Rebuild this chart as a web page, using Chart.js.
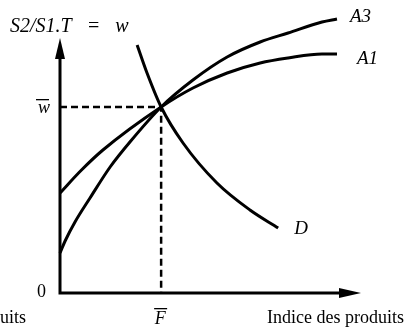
<!DOCTYPE html>
<html>
<head>
<meta charset="utf-8">
<script src="https://cdn.jsdelivr.net/npm/chart.js@4/dist/chart.umd.min.js"></script>
<style>
  html, body { margin: 0; padding: 0; background: #fff; }
</style>
</head>
<body>
<canvas id="chart" width="409" height="336"></canvas>
<script>
// curves (x = product index, y = S2/S1.T)
const a3X = [0, 0.17, 0.5, 1.0, 1.67, 2.33, 3.37, 4.43, 5.57, 6.67, 7.6, 8.73, 9.23];
const a3Y = [1.6, 2.08, 2.84, 3.8, 5.04, 6.04, 7.44, 8.52, 9.44, 10.04, 10.4, 10.84, 10.96];
const a1X = [0, 0.7, 1.43, 3.37, 4.43, 5.57, 6.67, 7.6, 8.73, 9.23];
const a1Y = [4.0, 4.9, 5.72, 7.44, 8.2, 8.8, 9.2, 9.4, 9.56, 9.56];
const dX = [2.57, 2.9, 3.37, 4.1, 5.23, 6.33, 7.27];
const dY = [9.92, 8.8, 7.44, 6.0, 4.4, 3.32, 2.6];

const fBar = 3.37;   // equilibrium F
const wBar = 7.44;   // equilibrium w
const xAxisEnd = 10.03;
const yAxisEnd = 10.2;

const toPts = (xs, ys) => xs.map((x, i) => ({ x: x, y: ys[i] }));

const ink = '#000';
const serif = '"Liberation Serif", "DejaVu Serif", serif';

const axesPlugin = {
    id: 'axes',
    beforeDatasetsDraw(chart) {
        const { ctx, scales: { x, y } } = chart;
        const x0 = x.getPixelForValue(0), y0 = y.getPixelForValue(0);
        const xe = x.getPixelForValue(xAxisEnd), ye = y.getPixelForValue(yAxisEnd);
        ctx.save();
        ctx.strokeStyle = ink;
        ctx.fillStyle = ink;
        ctx.lineWidth = 3;
        ctx.lineCap = 'square';
        ctx.beginPath();
        ctx.moveTo(x0, ye + 15);
        ctx.lineTo(x0, y0);
        ctx.lineTo(xe - 15, y0);
        ctx.stroke();
        // arrow heads
        ctx.beginPath();
        ctx.moveTo(x0, ye);
        ctx.lineTo(x0 - 5, ye + 21);
        ctx.lineTo(x0 + 5, ye + 21);
        ctx.closePath();
        ctx.fill();
        ctx.beginPath();
        ctx.moveTo(xe, y0);
        ctx.lineTo(xe - 22, y0 - 5);
        ctx.lineTo(xe - 22, y0 + 5);
        ctx.closePath();
        ctx.fill();
        ctx.restore();
    },
    afterDatasetsDraw(chart) {
        const { ctx, scales: { x, y } } = chart;
        const x0 = x.getPixelForValue(0), y0 = y.getPixelForValue(0);
        const px = v => x.getPixelForValue(v), py = v => y.getPixelForValue(v);
        ctx.save();
        ctx.fillStyle = ink;
        ctx.textBaseline = 'middle';

        ctx.font = 'italic 20px ' + serif;
        ctx.textAlign = 'left';
        ctx.fillText('S2/S1.T   =   w', 10, 27);

        ctx.font = 'italic 19px ' + serif;
        ctx.fillText('A3', px(a3X[a3X.length - 1]) + 13, py(a3Y[a3Y.length - 1]) - 2);
        ctx.fillText('A1', px(a1X[a1X.length - 1]) + 20, py(a1Y[a1Y.length - 1]) + 5);
        ctx.fillText('D', px(dX[dX.length - 1]) + 16, py(dY[dY.length - 1]) + 1);

        // w bar
        ctx.font = 'italic 18px ' + serif;
        ctx.textAlign = 'right';
        ctx.fillText('w', x0 - 10, py(wBar) + 1);
        ctx.fillRect(x0 - 24, py(wBar) - 8, 13, 1.3);

        // F bar
        ctx.textAlign = 'center';
        ctx.fillText('F', px(fBar) - 1, y0 + 26);
        ctx.fillRect(px(fBar) - 7, y0 + 15, 13, 1.3);

        ctx.font = '18px ' + serif;
        ctx.textAlign = 'right';
        ctx.fillText('0', x0 - 14, y0 - 1);

        ctx.textAlign = 'left';
        ctx.font = '18px ' + serif;
        ctx.fillText('Indice des produits', 267, y0 + 25);
        ctx.fillText('uits', 0, y0 + 25);
        ctx.restore();
    }
};

const curve = (data) => ({
    data: data,
    borderColor: ink,
    borderWidth: 3,
    pointRadius: 0,
    cubicInterpolationMode: 'monotone',
    fill: false,
    clip: false
});

new Chart(document.getElementById('chart'), {
    type: 'line',
    data: {
        datasets: [
            curve(toPts(a3X, a3Y)),
            curve(toPts(a1X, a1Y)),
            curve(toPts(dX, dY)),
            {
                data: [{ x: 0, y: wBar }, { x: fBar, y: wBar }, { x: fBar, y: 0 }],
                borderColor: ink,
                borderWidth: 2.5,
                borderDash: [7, 4],
                pointRadius: 0,
                tension: 0,
                fill: false,
                clip: false
            }
        ]
    },
    options: {
        responsive: false,
        animation: false,
        layout: { padding: { left: 60, right: 39, top: 13, bottom: 43 } },
        plugins: {
            legend: { display: false },
            tooltip: { enabled: false }
        },
        scales: {
            x: { type: 'linear', min: 0, max: 10.33, display: false },
            y: { type: 'linear', min: 0, max: 11.2, display: false }
        }
    },
    plugins: [axesPlugin]
});
</script>
</body>
</html>
